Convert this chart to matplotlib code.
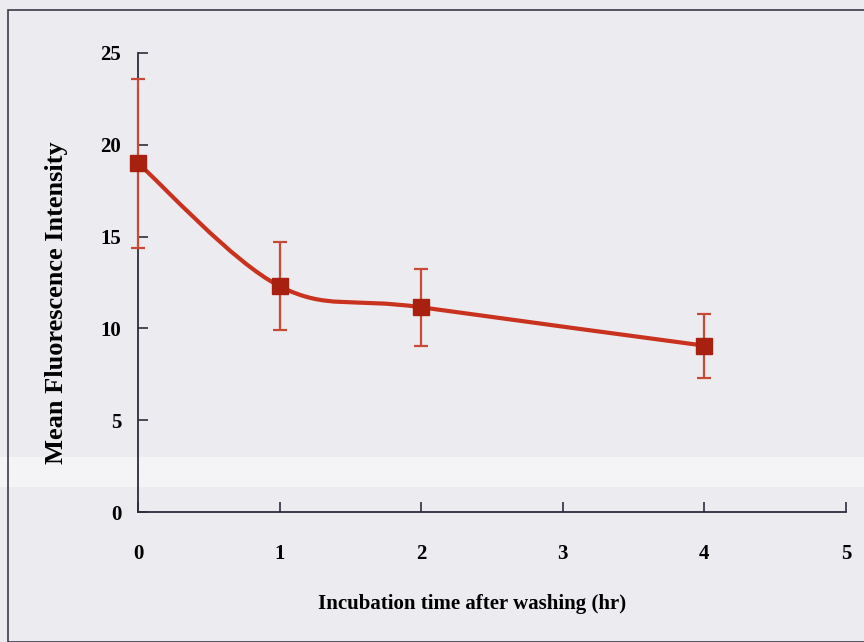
import matplotlib
matplotlib.use("Agg")
import matplotlib.pyplot as plt
import numpy as np
from matplotlib.path import Path
from matplotlib.patches import PathPatch, Rectangle

# values
hours = [0, 1, 2, 4]
mfi = [19.0, 12.3, 11.15, 9.06]
mfi_sd = [4.6, 2.4, 2.1, 1.75]

x_ticks = [0, 1, 2, 3, 4, 5]
y_ticks = [0, 5, 10, 15, 20, 25]

LINE_RED = "#c8321e"
MARK_RED = "#a8200f"
BAR_RED = "#c84a36"
BG = "#ececf0"
AXIS = "#2c2c3c"


def smooth_path(xs, ys):
    # Excel-style smoothed line: cubic bezier, control points from neighbours
    pts = np.column_stack([xs, ys]).astype(float)
    n = len(pts)
    verts = [pts[0]]
    codes = [Path.MOVETO]
    for i in range(n - 1):
        p0 = pts[i - 1] if i > 0 else pts[i]
        p1 = pts[i]
        p2 = pts[i + 1]
        p3 = pts[i + 2] if i + 2 < n else pts[i + 1]
        c1 = p1 + (p2 - p0) / 6.0
        c2 = p2 - (p3 - p1) / 6.0
        verts += [c1, c2, p2]
        codes += [Path.CURVE4] * 3
    return Path(verts, codes)


plt.rcParams["font.family"] = ["Liberation Serif", "DejaVu Serif"]
plt.rcParams["font.weight"] = "bold"

fig = plt.figure(figsize=(8.64, 6.42), dpi=100, facecolor=BG)

# scanned page frame and the pale scan band
fig.patches.append(Rectangle((8 / 864, 0), 1.0, 1 - 10 / 642, transform=fig.transFigure,
                             fill=False, edgecolor="#3a3a4a", linewidth=1.2, zorder=-4))
fig.patches.append(Rectangle((0, 1 - 487 / 642), 1.0, 30 / 642, transform=fig.transFigure,
                             facecolor="#f4f4f6", edgecolor="none", zorder=-5))

ax = fig.add_axes([138 / 864, 1 - 512 / 642, 708 / 864, 459 / 642])
ax.set_facecolor("none")

ax.add_patch(PathPatch(smooth_path(hours, mfi), facecolor="none", edgecolor=LINE_RED,
                       linewidth=3.0, zorder=3, capstyle="round", joinstyle="round"))
ax.errorbar(hours, mfi, yerr=mfi_sd, fmt="none", ecolor=BAR_RED, elinewidth=1.6,
            capsize=4.7, capthick=1.6, zorder=4, clip_on=False)
ax.plot(hours, mfi, linestyle="none", marker="s", markersize=11.5,
        color=MARK_RED, markeredgecolor=MARK_RED, zorder=5, clip_on=False)

ax.set_xlim(0, 5)
ax.set_ylim(0, 25)
ax.set_xticks(x_ticks)
ax.set_yticks(y_ticks)
ax.tick_params(direction="in", length=7, width=1.2, color=AXIS, labelsize=15)
ax.tick_params(axis="x", pad=23)
ax.tick_params(axis="y", pad=12)

for side in ["top", "right"]:
    ax.spines[side].set_visible(False)
for side in ["left", "bottom"]:
    ax.spines[side].set_color(AXIS)
    ax.spines[side].set_linewidth(1.3)

ax.set_xlabel("Incubation time after washing (hr)", fontsize=15, fontweight="bold")
ax.xaxis.set_label_coords((472 - 138) / 708, (512 - 594) / 459)
ax.set_ylabel("Mean Fluorescence Intensity", fontsize=19, fontweight="bold")
ax.yaxis.set_label_coords((68 - 138) / 708, 0.456)

fig.savefig("out.png", dpi=100, facecolor=BG)
